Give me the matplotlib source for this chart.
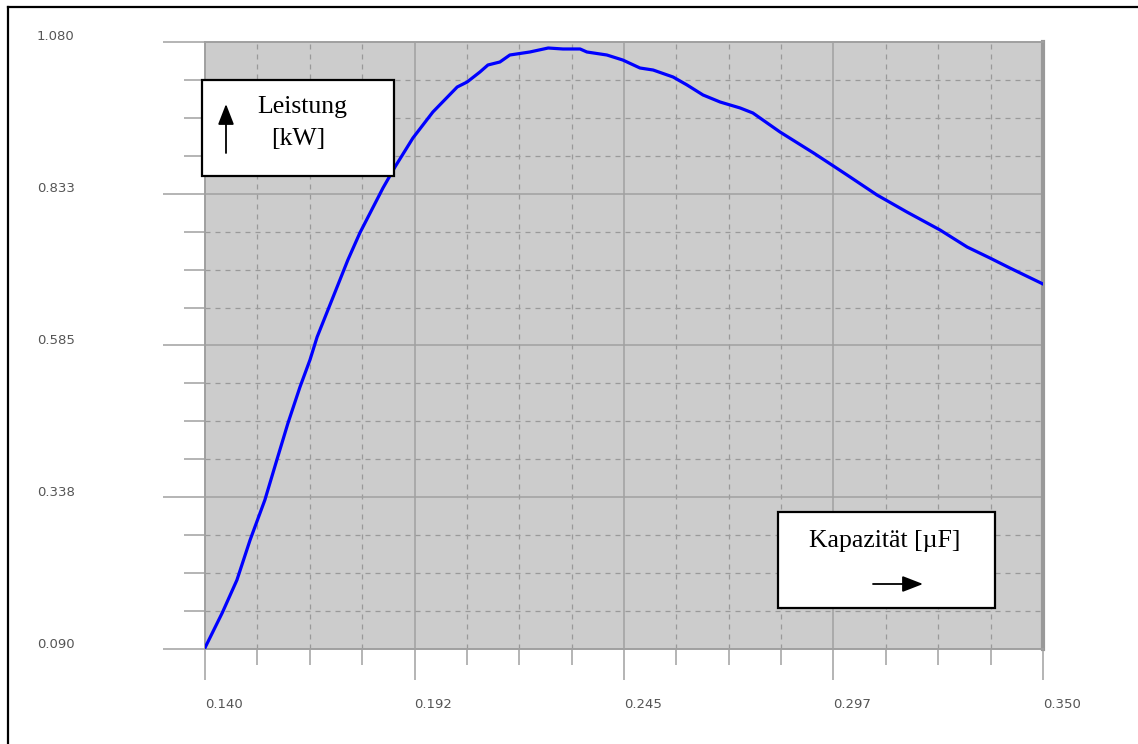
import matplotlib
matplotlib.use("Agg")
import matplotlib.pyplot as plt
import matplotlib.transforms as mtrans
from matplotlib.ticker import FixedLocator
import numpy as np

# power vs. capacitance curve
kapazitaet = [0.1400, 0.1443, 0.1480, 0.1513, 0.1550, 0.1580, 0.1608, 0.1638,
              0.1663, 0.1681, 0.1718, 0.1758, 0.1788, 0.1846, 0.1876, 0.1921,
              0.1971, 0.2032, 0.2057, 0.2089, 0.2109, 0.2139, 0.2164, 0.2214,
              0.2260, 0.2297, 0.2340, 0.2357, 0.2407, 0.2447, 0.2490, 0.2523,
              0.2573, 0.2608, 0.2648, 0.2691, 0.2741, 0.2773, 0.2823, 0.2841,
              0.2925, 0.2971, 0.3009, 0.3084, 0.3159, 0.3242, 0.3310, 0.3367,
              0.3417, 0.3500]
leistung = [0.0920, 0.1487, 0.2025, 0.2678, 0.3330, 0.3983, 0.4586, 0.5173,
            0.5614, 0.5989, 0.6592, 0.7245, 0.7685, 0.8419, 0.8761, 0.9234,
            0.9658, 1.0066, 1.0148, 1.0311, 1.0425, 1.0474, 1.0588, 1.0637,
            1.0702, 1.0686, 1.0686, 1.0637, 1.0588, 1.0506, 1.0376, 1.0343,
            1.0229, 1.0099, 0.9936, 0.9821, 0.9724, 0.9642, 0.9414, 0.9332,
            0.8990, 0.8794, 0.8631, 0.8305, 0.8027, 0.7734, 0.7456, 0.7277,
            0.7114, 0.6853]

x_labels = ["0.140", "0.192", "0.245", "0.297", "0.350"]
y_labels = ["0.090", "0.338", "0.585", "0.833", "1.080"]
x_min, x_max = 0.140, 0.350
y_min, y_max = 0.090, 1.080

W, H = 1138, 744
fig = plt.figure(figsize=(W / 100, H / 100), dpi=100)
fig.patch.set_facecolor("white")

# outer frame (only top/left edges fall inside the image)
fig.add_artist(plt.Line2D([8 / W, 8 / W], [0, 1 - 7 / H], color="black", lw=1.6,
                          transform=fig.transFigure))
fig.add_artist(plt.Line2D([8 / W, 1], [1 - 7 / H, 1 - 7 / H], color="black", lw=1.6,
                          transform=fig.transFigure))

ax = fig.add_axes([205 / W, (H - 649) / H, 838 / W, 607 / H])
ax.set_facecolor("#cccccc")
ax.plot(kapazitaet, leistung, color="#0000ff", lw=2.3, zorder=3,
        solid_joinstyle="round")
ax.set_xlim(x_min, x_max)
ax.set_ylim(y_min, y_max)

xmaj = np.linspace(x_min, x_max, len(x_labels))
ymaj = np.linspace(y_min, y_max, len(y_labels))
ax.xaxis.set_major_locator(FixedLocator(xmaj))
ax.yaxis.set_major_locator(FixedLocator(ymaj))
ax.xaxis.set_minor_locator(FixedLocator(np.linspace(x_min, x_max, 4 * (len(x_labels) - 1) + 1)))
ax.yaxis.set_minor_locator(FixedLocator(np.linspace(y_min, y_max, 4 * (len(y_labels) - 1) + 1)))

grid_c = "#a0a0a0"
ax.grid(which="major", color=grid_c, lw=1.1, ls="-", zorder=1)
ax.grid(which="minor", color="#999999", lw=0.9, ls=(0, (4, 4)), zorder=1)
ax.set_axisbelow(True)

ax.tick_params(axis="y", which="major", length=30.2, width=1.1, color=grid_c,
               labelleft=False)
ax.tick_params(axis="y", which="minor", length=15.1, width=1.1, color=grid_c)
ax.tick_params(axis="x", which="major", length=22.3, width=1.1, color=grid_c,
               labelbottom=False)
ax.tick_params(axis="x", which="minor", length=11.5, width=1.1, color=grid_c)

for side in ["left", "bottom", "top"]:
    ax.spines[side].set_color(grid_c)
    ax.spines[side].set_linewidth(1.4)
ax.spines["right"].set_color("#999999")
ax.spines["right"].set_linewidth(3)

# axis labels, left aligned like the original instrument software
lab_kw = dict(fontsize=9.5, color="#555555", family="DejaVu Sans")
ytrans = mtrans.blended_transform_factory(fig.transFigure, ax.transData) + \
    mtrans.ScaledTranslation(0, 5 / 100, fig.dpi_scale_trans)
for v, s in zip(ymaj, y_labels):
    fig.text(37 / W, v, s, transform=ytrans, ha="left", va="center", **lab_kw)
xtrans = mtrans.blended_transform_factory(ax.transData, fig.transFigure)
for v, s in zip(xmaj, x_labels):
    fig.text(v, 1 - 705 / H, s, transform=xtrans, ha="left", va="center", **lab_kw)

# annotation boxes
serif = dict(family="Liberation Serif", fontsize=18.5, color="black")


def label_box(x0, y0, x1, y1):
    fig.add_artist(plt.Rectangle((x0 / W, 1 - y1 / H), (x1 - x0) / W, (y1 - y0) / H,
                                 transform=fig.transFigure, facecolor="white",
                                 edgecolor="black", lw=1.6, zorder=5))


def arrow(x0, y0, x1, y1):
    fig.add_artist(matplotlib.patches.FancyArrowPatch(
        (x0 / W, 1 - y0 / H), (x1 / W, 1 - y1 / H), transform=fig.transFigure,
        arrowstyle="-|>,head_length=0.9,head_width=0.35", mutation_scale=14,
        color="black", lw=1.3, shrinkA=0, shrinkB=0, zorder=6))


label_box(202, 80, 394, 176)
arrow(226, 153, 226, 104)
fig.text(302 / W, 1 - 107 / H, "Leistung", ha="center", va="center", zorder=6, **serif)
fig.text(298 / W, 1 - 139 / H, "[kW]", ha="center", va="center", zorder=6, **serif)

label_box(778, 512, 995, 608)
fig.text(885 / W, 1 - 541 / H, "Kapazität [µF]", ha="center", va="center", zorder=6, **serif)
arrow(873, 584, 923, 584)

fig.savefig("out.png", dpi=100)
